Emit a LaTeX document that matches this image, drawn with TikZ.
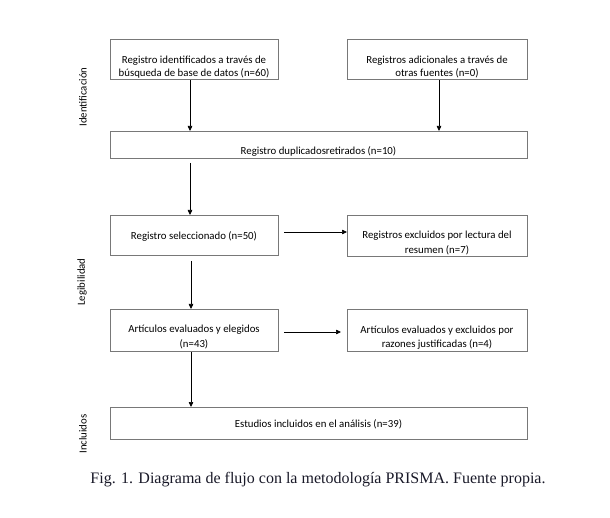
\documentclass[tikz,border=0pt]{standalone}
\usepackage{fontspec}
\setmainfont{Liberation Serif}
\newfontfamily\boxfont{Carlito}
\usetikzlibrary{arrows.meta}
\definecolor{boxgray}{RGB}{120,120,120}
\definecolor{capcol}{RGB}{25,25,40}
\begin{document}
\begin{tikzpicture}[x=1pt,y=-1pt,
  boxst/.style={draw=boxgray, line width=1pt, anchor=north west, inner sep=0pt},
  lbl/.style={font=\boxfont\fontsize{10.8}{13}\selectfont, inner sep=0pt, align=center},
  lblb/.style={font=\boxfont\fontsize{10.8}{14.5}\selectfont, inner sep=0pt, align=center},
  side/.style={font=\boxfont\fontsize{10.8}{12}\selectfont, inner sep=0pt, rotate=90},
  arr/.style={-{Triangle[length=5pt,width=4.5pt]}, line width=0.7pt}]
\useasboundingbox (0,0) rectangle (610,518);

% boxes
\node[boxst, minimum width=168pt, minimum height=40pt] (b1) at (110,39) {};
\node[boxst, minimum width=180pt, minimum height=40pt] (b2) at (347,39) {};
\node[boxst, minimum width=417pt, minimum height=27pt] (b3) at (110,131) {};
\node[boxst, minimum width=168pt, minimum height=40pt] (b4) at (110,215) {};
\node[boxst, minimum width=180pt, minimum height=41pt] (b5) at (347,215) {};
\node[boxst, minimum width=168pt, minimum height=42pt] (b6) at (110,309) {};
\node[boxst, minimum width=180pt, minimum height=42pt] (b7) at (347,309) {};
\node[boxst, minimum width=417pt, minimum height=32pt] (b8) at (110,407) {};

% texts
\node[lbl] (t1) at (194,67) {Registro identificados a través de\\búsqueda de base de datos (n=60)};
\node[lbl] (t2) at (437,67) {Registros adicionales a través de\\otras fuentes (n=0)};
\node[lbl] (t3) at (318.5,151) {Registro duplicadosretirados (n=10)};
\node[lbl] (t4) at (194,236) {Registro seleccionado (n=50)};
\node[lblb] (t5) at (437,243) {Registros excluidos por lectura del\\resumen (n=7)};
\node[lblb] (t6) at (194,337) {Artículos evaluados y elegidos\\(n=43)};
\node[lblb] (t7) at (437,337.5) {Artículos evaluados y excluidos por\\razones justificadas (n=4)};
\node[lbl] (t8) at (318.5,424) {Estudios incluidos en el análisis (n=39)};

% side labels
\node[side] (s1) at (83,97) {Identificación};
\node[side] (s2) at (82,282) {Legibilidad};
\node[side] (s3) at (83,434) {Incluidos};

% caption
\node[font=\fontsize{16}{18}\selectfont, text=capcol, inner sep=0pt] (cap) at (318,480) {Fig. 1. Diagrama de flujo con la metodología PRISMA. Fuente propia.};

% connectors
\coordinate (xa) at (190,0);
\coordinate (xb) at (439,0);
\coordinate (xc) at (191,0);
\coordinate (ya) at (0,232);
\coordinate (yb) at (0,332);
\draw[arr] (b1.south -| xa) -- (b3.north -| xa);
\draw[arr] (b2.south -| xb) -- (b3.north -| xb);
\draw[arr, shorten <=4pt] (b3.south -| xa) -- (b4.north -| xa);
\draw[arr, shorten <=5pt] (b4.south -| xc) -- (b6.north -| xc);
\draw[arr] (b6.south -| xc) -- (b8.north -| xc);
\draw[arr, shorten <=5pt] (b4.east |- ya) -- (b5.west |- ya);
\draw[arr, shorten <=5pt, shorten >=6pt] (b6.east |- yb) -- (b7.west |- yb);
\end{tikzpicture}
\end{document}
